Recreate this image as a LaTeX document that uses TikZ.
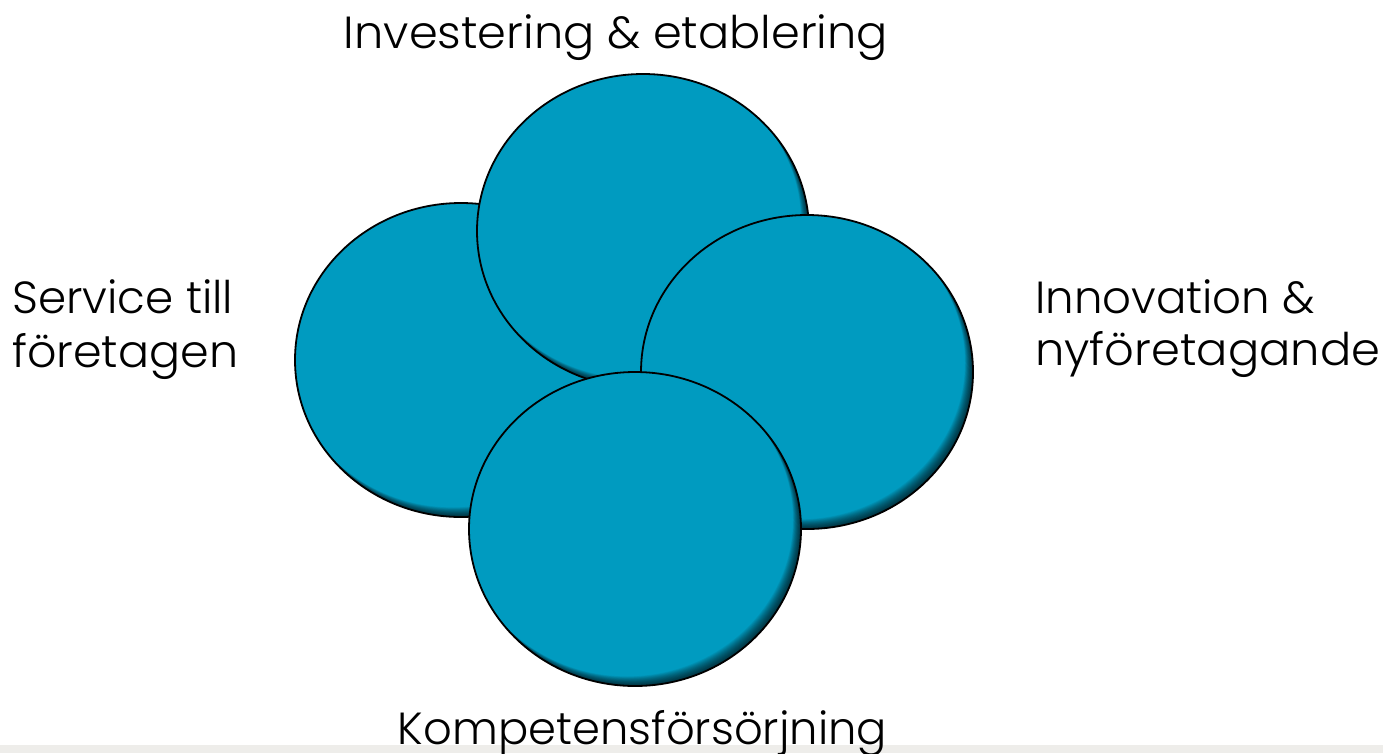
\documentclass[tikz,border=0pt]{standalone}
\usepackage{fontspec}
\usepackage{graphicx}
\setmainfont{Poppins Light}
\definecolor{disc}{RGB}{0,155,192}
\definecolor{strip}{RGB}{238,237,234}
\newcommand\mydisc[2]{%
  \fill[disc] (#1,#2) ellipse [x radius=166, y radius=157];
  \begin{scope}
    \clip (#1,#2) ellipse [x radius=166, y radius=157];
    \foreach \k in {1,...,16}{
      \fill[black, opacity=0.06, even odd rule] (#1,#2) ellipse [x radius=166, y radius=157]
        ({#1-0.5*\k},{#2-0.6*\k}) ellipse [x radius=166, y radius=157];
    }
  \end{scope}
  \draw[line width=1.8pt] (#1,#2) ellipse [x radius=166, y radius=157];
}
\tikzset{lbl/.style={inner sep=0pt, font=\fontsize{45}{52}\selectfont}}
\begin{document}
\begin{tikzpicture}[x=1pt, y=-1pt]
  \useasboundingbox (0,0) rectangle (1383,753);
  \fill[white] (0,0) rectangle (1383,753);
  \fill[strip] (0,745) rectangle (1383,753);
  \mydisc{461}{360}
  \mydisc{643}{231}
  \mydisc{807}{372}
  \mydisc{635}{529}
  \node[lbl, anchor=base] (inv) at (616,48) {\resizebox{544pt}{\height}{Investering \& etablering}};
  \node[lbl, anchor=base west] (ser1) at (12,313) {\resizebox{221pt}{\height}{Service till}};
  \node[lbl, anchor=base west] (ser2) at (12,367) {\resizebox{226pt}{\height}{företagen}};
  \node[lbl, anchor=base west] (inn1) at (1035,313) {\resizebox{280pt}{\height}{Innovation \&}};
  \node[lbl, anchor=base west] (inn2) at (1035,365) {\resizebox{345pt}{\height}{nyföretagande}};
  \node[lbl, anchor=base] (kom) at (642.5,744) {\resizebox{489pt}{\height}{Kompetensförsörjning}};
\end{tikzpicture}
\end{document}
